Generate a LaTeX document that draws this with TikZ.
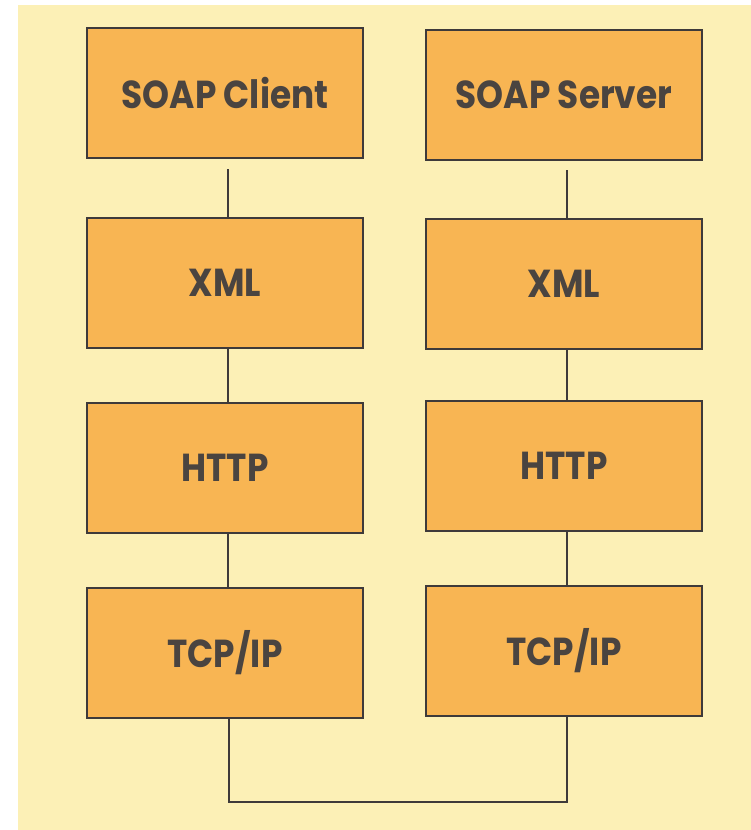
\documentclass[tikz,border=0pt]{standalone}
\usepackage{fontspec}
\setmainfont{Poppins}
\definecolor{bgyellow}{HTML}{FCF0B6}
\definecolor{boxorange}{HTML}{F8B553}
\definecolor{inkdark}{HTML}{4A4440}
\definecolor{edgedark}{HTML}{3E3A3A}
\newcommand{\lbl}[1]{\scalebox{0.88}[1]{#1}}
\tikzset{
  layer/.style={draw=edgedark, line width=2pt, fill=boxorange, minimum width=276pt, minimum height=130pt,
    inner sep=0pt, font=\fontsize{39}{39}\selectfont\bfseries, text=inkdark},
  link/.style={draw=edgedark, line width=1.6pt}
}
\begin{document}
\begin{tikzpicture}[x=1pt,y=-1pt]
\useasboundingbox (0,0) rectangle (751,830);
\fill[white] (0,0) rectangle (751,830);
\fill[bgyellow] (18,5) rectangle (751,830);
% left column
\node[layer] (lsoap) at (225,93) {\lbl{SOAP Client}};
\node[layer] (lxml) at (225,282.5) {\lbl{XML}};
\node[layer] (lhttp) at (225,468) {\lbl{HTTP}};
\node[layer] (ltcp) at (225,653) {\lbl{TCP/IP}};
% right column
\node[layer] (rsoap) at (564,95) {\lbl{SOAP Server}};
\node[layer] (rxml) at (564,283.5) {\lbl{XML}};
\node[layer] (rhttp) at (564,466) {\lbl{HTTP}};
\node[layer] (rtcp) at (564,651) {\lbl{TCP/IP}};
% connectors
\draw[link] ([xshift=3pt,yshift=-10pt]lsoap.south) -- ([xshift=3pt]lxml.north);
\draw[link] ([xshift=3pt]lxml.south) -- ([xshift=3pt]lhttp.north);
\draw[link] ([xshift=3pt]lhttp.south) -- ([xshift=3pt]ltcp.north);
\draw[link] ([xshift=3pt,yshift=-9pt]rsoap.south) -- ([xshift=3pt]rxml.north);
\draw[link] ([xshift=3pt]rxml.south) -- ([xshift=3pt]rhttp.north);
\draw[link] ([xshift=3pt]rhttp.south) -- ([xshift=3pt]rtcp.north);
\coordinate (busy) at (0,802);
\draw[link] ([xshift=4pt]ltcp.south) -- ([xshift=4pt]ltcp.south |- busy)
  -- ([xshift=3pt]rtcp.south |- busy) -- ([xshift=3pt]rtcp.south);
\end{tikzpicture}
\end{document}
